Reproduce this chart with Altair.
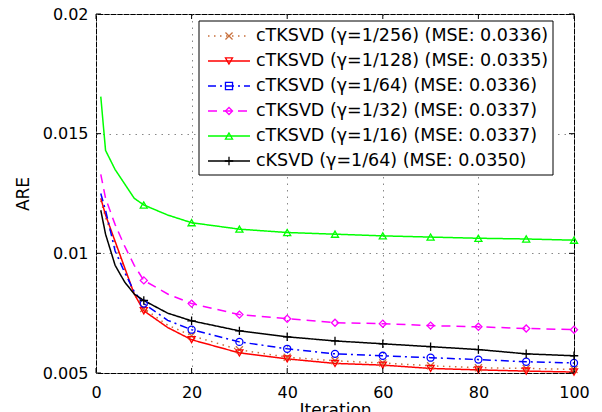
import altair as alt
import pandas as pd

iterations = [1, 2, 4, 6, 8, 10, 15, 20, 30, 40, 50, 60, 70, 80, 90, 100]
are_g256 = [0.0122, 0.0115, 0.0104, 0.0093, 0.0083, 0.0077, 0.0070, 0.00656, 0.00597, 0.00566, 0.00551, 0.00542, 0.00530, 0.00522, 0.00519, 0.00515]
are_g128 = [0.0123, 0.0116, 0.0105, 0.0094, 0.0083, 0.0076, 0.0069, 0.00639, 0.00584, 0.00559, 0.00540, 0.00533, 0.00519, 0.00513, 0.00508, 0.00504]
are_g64 = [0.0125, 0.0118, 0.0101, 0.0092, 0.0084, 0.0079, 0.0072, 0.00681, 0.00630, 0.00601, 0.00580, 0.00572, 0.00564, 0.00556, 0.00547, 0.00542]
are_g32 = [0.0133, 0.0123, 0.0112, 0.0103, 0.0095, 0.00887, 0.0083, 0.00790, 0.00744, 0.00727, 0.00710, 0.00706, 0.00698, 0.00693, 0.00686, 0.00681]
are_g16 = [0.01655, 0.0143, 0.0135, 0.0129, 0.0123, 0.01202, 0.0116, 0.01128, 0.01101, 0.01087, 0.01080, 0.01073, 0.01068, 0.01063, 0.01060, 0.01055]
are_cksvd = [0.0118, 0.0108, 0.0095, 0.0088, 0.0083, 0.00803, 0.0075, 0.00718, 0.00676, 0.00651, 0.00634, 0.00622, 0.00610, 0.00598, 0.00580, 0.00572]

series_keys = ["g256", "g128", "g64", "g32", "g16", "cksvd"]
series_labels = [
    "cTKSVD (γ=1/256) (MSE: 0.0336)",
    "cTKSVD (γ=1/128) (MSE: 0.0335)",
    "cTKSVD (γ=1/64) (MSE: 0.0336)",
    "cTKSVD (γ=1/32) (MSE: 0.0337)",
    "cTKSVD (γ=1/16) (MSE: 0.0337)",
    "cKSVD (γ=1/64) (MSE: 0.0350)",
]
x_ticks = [0, 20, 40, 60, 80, 100]
y_ticks = [0.005, 0.01, 0.015, 0.02]

series_values = [are_g256, are_g128, are_g64, are_g32, are_g16, are_cksvd]

colors = ["#c8703c", "#ff0000", "#0000ff", "#ff00ff", "#00ff00", "#000000"]
dashes = [[1.5, 4.5], [1, 0], [8, 4, 2, 4], [9, 6], [1, 0], [1, 0]]
plot_shapes = ["M-1,-1L1,1M-1,1L1,-1", "triangle-down", "circle", "diamond", "triangle-up", "M-1.2,0L1.2,0M0,-1.2L0,1.2"]
legend_shapes = ["M-1,-1L1,1M-1,1L1,-1", "triangle-down", "square", "diamond", "triangle-up", "M-1.2,0L1.2,0M0,-1.2L0,1.2"]

W, H = 478, 359

rows = []
for key, vals in zip(series_keys, series_values):
    for it, v in zip(iterations, vals):
        rows.append({"iter": it, "are": v, "series": key, "mk": key})
df = pd.DataFrame(rows)

leg_rows = []
for i, (key, lab) in enumerate(zip(series_keys, series_labels)):
    yy = 22 + 25 * i
    leg_rows.append({"series": key, "mk": key + "_L", "label": lab,
                     "x1": 112, "x2": 154, "xm": 133, "xt": 160, "y": yy})
leg = pd.DataFrame(leg_rows)

color_scale = alt.Scale(domain=series_keys, range=colors)
dash_scale = alt.Scale(domain=series_keys, range=dashes)
shape_scale = alt.Scale(domain=series_keys + [k + "_L" for k in series_keys],
                        range=plot_shapes + legend_shapes)

xs = alt.Scale(domain=[0, 100], nice=False)
ys = alt.Scale(domain=[0.005, 0.02], nice=False, zero=False)

base = alt.Chart(df)

lines = base.mark_line(strokeWidth=1.5).encode(
    x=alt.X("iter:Q", scale=xs, axis=alt.Axis(
        values=x_ticks, title="Iteration", grid=True, gridDash=[1.5, 5], gridColor="#888888",
        gridOpacity=1, ticks=False, domain=False, labelFlush=False, labelFont="DejaVu Sans",
        labelFontSize=16, labelColor="#000000", labelPadding=11, titleFont="DejaVu Sans",
        titleFontSize=17, titleFontWeight="normal", titleColor="#000000", titlePadding=2)),
    y=alt.Y("are:Q", scale=ys, axis=alt.Axis(
        values=y_ticks, format=".3~f", title="ARE", grid=True, gridDash=[1.5, 5], gridColor="#888888",
        gridOpacity=1, ticks=False, domain=False, labelFlush=False, labelFont="DejaVu Sans",
        labelFontSize=16, labelColor="#000000", labelPadding=8, titleFont="DejaVu Sans",
        titleFontSize=17, titleFontWeight="normal", titleColor="#000000", titlePadding=10)),
    color=alt.Color("series:N", scale=color_scale, legend=None),
    strokeDash=alt.StrokeDash("series:N", scale=dash_scale, legend=None),
    detail="series:N",
)

points = base.mark_point(filled=False, size=50, strokeWidth=1.3, opacity=1).encode(
    x=alt.X("iter:Q", scale=xs),
    y=alt.Y("are:Q", scale=ys),
    color=alt.Color("series:N", scale=color_scale, legend=None),
    shape=alt.Shape("mk:N", scale=shape_scale, legend=None),
).transform_filter("datum.iter % 10 == 0")

xt = pd.DataFrame({"t": x_ticks})
yt = pd.DataFrame({"t": y_ticks})
tick_b = alt.Chart(xt).mark_rule(color="black").encode(
    x=alt.X("t:Q", scale=xs), y=alt.value(H), y2=alt.value(H - 5))
tick_t = alt.Chart(xt).mark_rule(color="black").encode(
    x=alt.X("t:Q", scale=xs), y=alt.value(0), y2=alt.value(5))
tick_l = alt.Chart(yt).mark_rule(color="black").encode(
    y=alt.Y("t:Q", scale=ys), x=alt.value(0), x2=alt.value(5))
tick_r = alt.Chart(yt).mark_rule(color="black").encode(
    y=alt.Y("t:Q", scale=ys), x=alt.value(W), x2=alt.value(W - 5))

legbox = alt.Chart(pd.DataFrame({"a": [0]})).mark_rect(
    fill="white", stroke="black", strokeWidth=1).encode(
    x=alt.value(103), x2=alt.value(457), y=alt.value(7), y2=alt.value(161))

lbase = alt.Chart(leg)
leg_lines = lbase.mark_rule(strokeWidth=1.5).encode(
    x=alt.X("x1:Q", scale=None, axis=None), x2="x2:Q",
    y=alt.Y("y:Q", scale=None, axis=None),
    color=alt.Color("series:N", scale=color_scale, legend=None),
    strokeDash=alt.StrokeDash("series:N", scale=dash_scale, legend=None),
)
leg_marks = lbase.mark_point(filled=False, size=50, strokeWidth=1.3, opacity=1).encode(
    x=alt.X("xm:Q", scale=None, axis=None),
    y=alt.Y("y:Q", scale=None, axis=None),
    color=alt.Color("series:N", scale=color_scale, legend=None),
    shape=alt.Shape("mk:N", scale=shape_scale, legend=None),
)
leg_text = lbase.mark_text(align="left", baseline="middle", font="DejaVu Sans",
                           fontSize=17.5, color="black").encode(
    x=alt.X("xt:Q", scale=None, axis=None),
    y=alt.Y("y:Q", scale=None, axis=None),
    text="label:N",
)

chart = alt.layer(
    lines, points, tick_b, tick_t, tick_l, tick_r, legbox, leg_lines, leg_marks, leg_text
).properties(
    width=W, height=H,
    autosize=alt.AutoSizeParams(type="none"),
    padding={"left": 88, "top": 6, "right": 20, "bottom": 50},
    background="white",
).configure_view(stroke="black", strokeWidth=1)

chart.save("out.html", embed_options={"renderer": "svg", "actions": False})
